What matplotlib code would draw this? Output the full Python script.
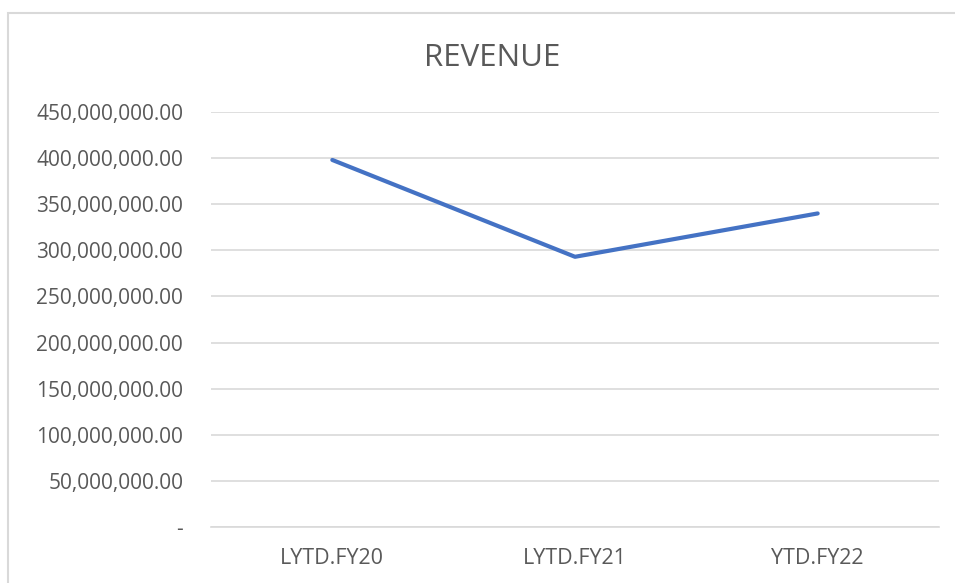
import matplotlib.pyplot as plt
from matplotlib.patches import Rectangle
from matplotlib.ticker import FuncFormatter

# Data
categories = ['LYTD.FY20', 'LYTD.FY21', 'YTD.FY22']
revenue = [398000000, 293000000, 340000000]
y_ticks = list(range(0, 450000001, 50000000))

plt.rcParams['font.family'] = ['Open Sans', 'DejaVu Sans']

fig = plt.figure(figsize=(9.55, 5.83), dpi=100)
ax = fig.add_axes([211 / 955, 1 - 527 / 583, 728 / 955, 415 / 583])

# chart frame (light gray border, cut off at right/bottom like the screenshot)
fig.patches.append(Rectangle((8 / 955, -0.1), 1.2, 1 - 13 / 583 + 0.1,
                             transform=fig.transFigure, fill=False,
                             edgecolor='#d9d9d9', linewidth=1.5))

x = range(len(categories))
ax.plot(x, revenue, color='#4472C4', linewidth=3, solid_capstyle='round')

ax.set_xlim(-0.5, len(categories) - 0.5)
ax.set_ylim(0, 450000000)
ax.set_yticks(y_ticks)
ax.yaxis.set_major_formatter(FuncFormatter(lambda v, p: '-' if v == 0 else f'{v:,.2f}'))
ax.set_xticks(list(x))
ax.set_xticklabels(categories)

ax.grid(axis='y', color='#d9d9d9', linewidth=1.2)
ax.set_axisbelow(True)
for s in ['top', 'right', 'left']:
    ax.spines[s].set_visible(False)
ax.spines['bottom'].set_color('#d9d9d9')
ax.spines['bottom'].set_linewidth(1.2)
ax.tick_params(length=0, colors='#595959')
ax.tick_params(axis='y', pad=20, labelsize=15)
ax.tick_params(axis='x', pad=15, labelsize=15.5)

fig.text(492 / 955, 1 - 58 / 583, 'REVENUE', ha='center', va='center',
         fontsize=22.5, color='#595959')

fig.savefig('out.png', dpi=100, facecolor='white')
